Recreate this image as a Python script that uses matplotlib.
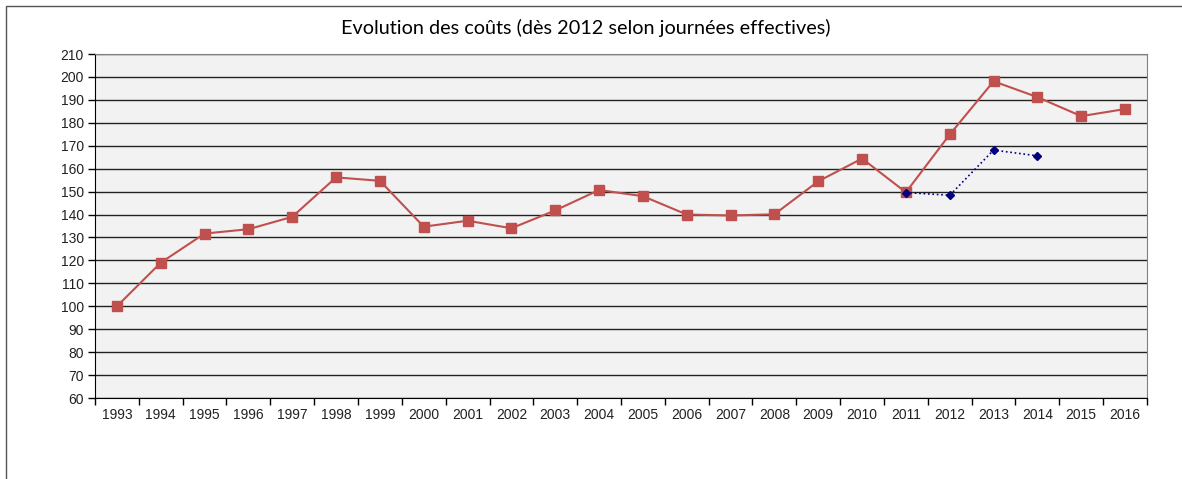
import matplotlib
matplotlib.use("Agg")
import matplotlib.pyplot as plt
from matplotlib.patches import Rectangle

# ----------
# data
# ----------
years = [str(y) for y in range(1993, 2017)]
costs = [100, 119, 131.7, 133.6, 139, 156.2, 154.7, 134.7, 137.3, 134,
         141.8, 150.7, 148, 140, 139.6, 140.1, 154.5, 164.4, 149.7, 174.9,
         198.1, 191.2, 182.9, 186]
eff_years = ["2011", "2012", "2013", "2014"]
eff_costs = [149.6, 148.4, 168.1, 165.6]

plt.rcParams["font.family"] = ["Liberation Sans", "DejaVu Sans"]

fig = plt.figure(figsize=(11.82, 4.79), dpi=100)
ax = fig.add_axes([95 / 1182, 1 - 398 / 479, (1147 - 95) / 1182, (398 - 54) / 479])

# outer chart frame
fig.patches.append(Rectangle((6 / 1182, -0.05), 1.1, 1 - 5.5 / 479 + 0.05,
                             transform=fig.transFigure, fill=False,
                             edgecolor="#555555", linewidth=1))

ax.set_facecolor("#F2F2F2")
pos = {y: i for i, y in enumerate(years)}
x_all = [pos[y] for y in years]
x_eff = [pos[y] for y in eff_years]

ax.plot(x_all, costs, color="#C0504D", linewidth=1.5, marker="s",
        markersize=7, markeredgecolor="#C0504D", zorder=3)
ax.plot(x_eff, eff_costs, color="#000080", linewidth=1.2, linestyle=":",
        marker="D", markersize=4, zorder=4)

ax.set_xlim(-0.5, len(years) - 0.5)
ax.set_ylim(60, 210)
ax.set_yticks(range(60, 211, 10))
ax.yaxis.grid(True, color="#222222", linewidth=1)
ax.set_axisbelow(True)

ax.set_xticks(x_all)
ax.set_xticklabels(years)
ax.set_xticks([i - 0.5 for i in range(len(years) + 1)], minor=True)
ax.tick_params(axis="x", which="major", length=0, pad=7, labelsize=10,
               labelcolor="#222222")
ax.tick_params(axis="x", which="minor", length=5, width=1, direction="out")
ax.tick_params(axis="y", length=5, width=1, pad=3, labelsize=10,
               labelcolor="#222222")

for side in ["top", "right"]:
    ax.spines[side].set_color("#808080")
for side in ["left", "bottom"]:
    ax.spines[side].set_color("black")

fig.text(586 / 1182, 1 - 28 / 479, "Evolution des coûts (dès 2012 selon journées effectives)",
         ha="center", va="center", fontsize=14.3, family=["Lato", "DejaVu Sans"])

fig.savefig("out.png", dpi=100)
